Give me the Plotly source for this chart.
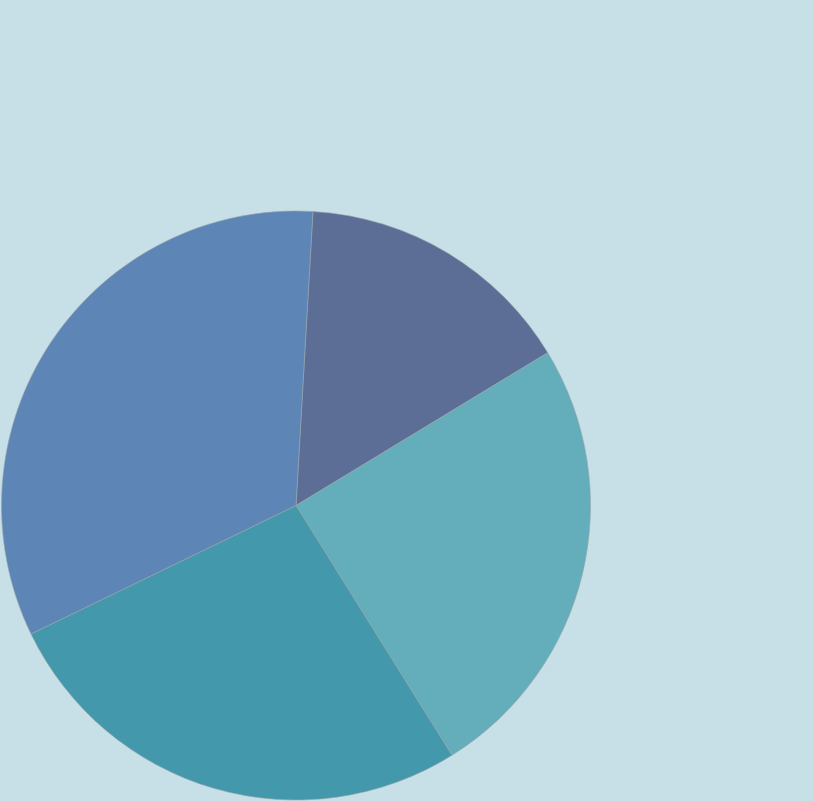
# Pie chart recreation - four slices on a pale blue background, no labels

import plotly.graph_objects as go

# --- data (share of the circle, clockwise from the top) ---
slices = ["A", "B", "C", "D"]
shares = [15.4, 24.8, 26.7, 33.1]
slice_colors = ["#5d6e96", "#64adbb", "#4498ab", "#5d86b6"]

W, H = 813, 801
cx, cy, r = 296, 505.5, 294.5  # pie centre and radius in pixels

fig = go.Figure(go.Pie(
    labels=slices,
    values=shares,
    sort=False,
    direction="clockwise",
    rotation=3.3,
    textinfo="none",
    hoverinfo="label+percent",
    marker=dict(colors=slice_colors, line=dict(color="#9aa5aa", width=0.6)),
    domain=dict(
        x=[(cx - r) / W, (cx + r) / W],
        y=[(H - cy - r) / H, (H - cy + r) / H],
    ),
))

fig.update_layout(
    width=W,
    height=H,
    margin=dict(l=0, r=0, t=0, b=0),
    paper_bgcolor="#c7e0e8",
    plot_bgcolor="#c7e0e8",
    showlegend=False,
)

# drop the browser's default page margin so the chart fills the window
fig.write_html(
    "out.html",
    config={"displayModeBar": False},
    post_script="document.body.style.margin='0';document.body.style.overflow='hidden';",
)
